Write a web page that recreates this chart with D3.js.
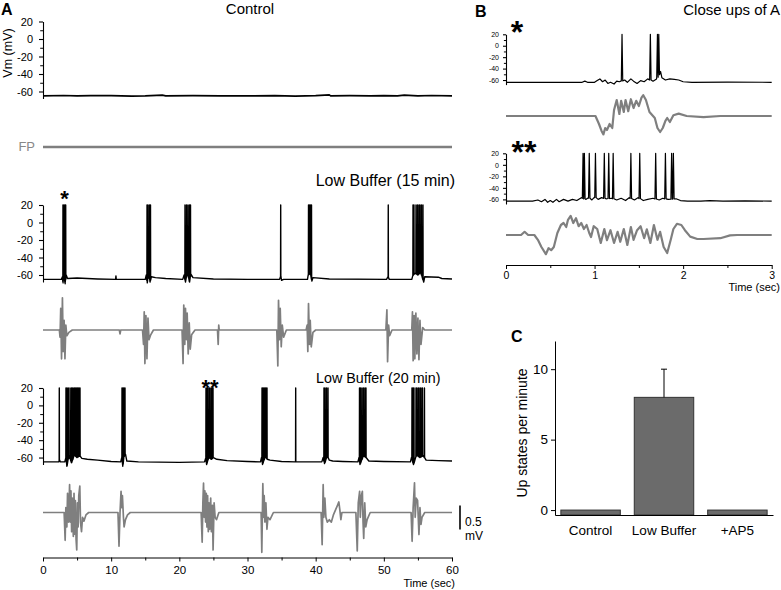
<!DOCTYPE html>
<html><head><meta charset="utf-8">
<script src="https://cdn.jsdelivr.net/npm/d3@7"></script>
<style>body{margin:0;background:#fff} svg{font-family:Arial,"Liberation Sans",sans-serif}</style>
</head><body><svg id="c" width="781" height="590"></svg>
<script>
// ---------- DATA ----------
const categories = ["Control", "Low Buffer", "+AP5"];
const upStates = [0, 8, 0];
const upStatesErr = [0, 2, 0];
const timeTicksA = [0, 10, 20, 30, 40, 50, 60];
const timeTicksB = [0, 1, 2, 3];
const vmTicks = [20, 0, -20, -40, -60];
const upTicks = [0, 5, 10];

// Panel A, control (t in s, Vm in mV)
const vmControl = [[0,-65],[3,-64.6],[5,-65],[7,-64.7],[10,-64.8],[13,-65.2],[15,-65],[17.5,-64.2],[18,-65],[22,-64.8],[26,-65.1],[30,-65],[34,-64.8],[37,-65.2],[40,-64.7],[42,-63.8],[42.2,-65],[45,-64.8],[48,-65],[50,-64.7],[52,-65],[53,-64.2],[55,-65],[57,-64.6],[60,-65]];
const fpControl = [[0,0],[60,0]];

// Panel A, low buffer 15 min
const vm15 = [[0,-65],[2.7,-65],[2.85,-62],[2.95,-69],[3.1,-58],[3.25,-70],[3.4,-60],[3.6,-64],[5,-63.5],[8,-64.5],[10.65,-65],[10.7,-61],[10.75,-65],[12,-65],[15,-65],[15.15,-60],[15.3,-69],[15.5,-58],[15.7,-68],[15.9,-62],[16.5,-63],[18,-64],[20.5,-65],[20.7,-60],[20.9,-68],[21.2,-57],[21.5,-68],[21.7,-59],[22,-63],[25,-64.5],[30,-65],[34.7,-65],[34.85,-61],[35.0,-66],[35.3,-65],[38.8,-65],[38.9,-60],[39.2,-58],[39.45,-67],[39.6,-63],[42,-64.5],[50.4,-65],[50.6,-62],[50.8,-65],[54.1,-65],[54.3,-60],[54.6,-58],[55.0,-60],[55.4,-57],[55.85,-68],[56,-62],[58,-62.5],[58.5,-64],[60,-64.5]];
const spikes15 = [2.93,3.08,3.23,3.33,15.26,15.4,15.62,15.77,20.83,21.05,21.27,21.49,21.64,34.87,38.95,39.1,39.24,39.39,50.65,54.28,54.42,54.72,54.94,55.16,55.3,55.52,55.74];
const fp15 = [[0,0],[2.4,0],[2.5,-0.15],[2.6,0.45],[2.72,-0.6],[2.85,0.67],[2.97,-0.45],[3.1,0.2],[3.22,-0.6],[3.35,0.1],[3.5,-0.12],[3.8,-0.05],[4.3,0],
 [11.2,0],[11.3,-0.08],[11.4,0],
 [14.6,0],[14.75,-0.3],[14.85,0.38],[14.95,-0.7],[15.1,0.3],[15.25,-0.6],[15.4,0.25],[15.55,-0.2],[15.8,-0.1],[16.2,0],
 [20.4,0],[20.55,-0.7],[20.65,0.52],[20.8,-0.3],[20.9,0.45],[21.05,-0.2],[21.15,0.35],[21.3,-0.5],[21.45,0.15],[21.6,-0.4],[21.8,-0.1],[22.3,0],
 [25.6,0],[25.7,-0.3],[25.78,0.1],[25.85,0],
 [34.3,0],[34.45,-0.75],[34.55,0.62],[34.7,-0.2],[34.8,0.45],[34.95,-0.35],[35.1,0.1],[35.3,-0.15],[35.7,0],
 [38.6,0],[38.75,0.1],[38.85,-0.45],[38.95,0.55],[39.1,-0.3],[39.2,0.2],[39.35,-0.35],[39.6,-0.05],[40,0],
 [50.3,0],[50.45,0.42],[50.55,-0.66],[50.7,0.1],[50.85,-0.12],[51.2,0],
 [54.1,0],[54.2,0.38],[54.3,-0.64],[54.45,0.3],[54.55,-0.6],[54.7,0.35],[54.85,-0.5],[55.0,0.25],[55.15,-0.62],[55.3,0.2],[55.45,-0.3],[55.7,0.05],[56,0],[60,0]];

// Panel A, low buffer 20 min
const vm20 = [[0,-65],[2.3,-65],[2.45,-63],[2.55,-65],[3.2,-65],[3.35,-60],[3.5,-70],[3.8,-58],[4.2,-66],[4.6,-57],[5.0,-60],[5.4,-58],[5.7,-61],[6.5,-62],[8,-63],[10,-64.5],[11.4,-65],[11.55,-60],[11.7,-70],[11.9,-58],[12.1,-56],[12.3,-64],[14,-65],[20,-65.5],[23.7,-65],[23.85,-61],[24.0,-68],[24.3,-60],[24.7,-62],[25.0,-60],[25.5,-62],[27,-63.5],[30,-64.5],[31.9,-65],[32.05,-60],[32.2,-68],[32.6,-59],[32.9,-62],[33.3,-63],[35,-64.5],[37,-65],[40.9,-65],[41.1,-60],[41.3,-67],[41.7,-58],[42,-63],[42.5,-64],[44,-64.5],[46.2,-65],[46.35,-60],[46.5,-68],[47,-58],[47.4,-60],[47.8,-64],[50,-64.5],[53.9,-65],[54.05,-60],[54.35,-68],[54.8,-57],[55.3,-60],[55.8,-58],[56.2,-63],[58,-63.5],[60,-64]];
const spikes20 = [2.39,3.37,3.52,3.71,3.96,4.18,4.36,4.55,4.69,4.84,4.99,5.13,5.28,5.43,11.59,11.74,11.88,12.03,23.91,24.06,24.2,24.42,24.64,24.79,24.94,32.13,32.27,32.42,32.57,32.71,32.86,37.07,41.22,41.37,41.59,41.81,46.43,46.57,46.79,47.01,47.23,47.38,54.13,54.28,54.42,54.72,54.86,55.08,55.3,55.45,55.67,55.96];
const fp20 = [[0,0],[3.1,0],[3.25,-0.58],[3.35,0.1],[3.5,-0.3],[3.6,0.4],[3.75,-0.2],[3.9,0.58],[4.0,-0.2],[4.1,0.45],[4.2,-0.4],[4.3,0.3],[4.45,-0.5],[4.55,0.4],[4.65,-0.45],[4.75,0.25],[4.85,-0.55],[4.95,-0.78],[5.05,0.2],[5.15,-0.3],[5.25,0.35],[5.4,0.55],[5.5,-0.2],[5.65,-0.4],[5.8,-0.1],[6.0,-0.18],[6.3,-0.05],[6.7,0],
 [11.0,0],[11.15,-0.7],[11.3,0],[11.45,0.44],[11.55,0.1],[11.65,0.35],[11.8,-0.1],[11.9,-0.3],[12.1,-0.15],[12.4,-0.05],[12.8,0],
 [23.2,0],[23.35,-0.62],[23.45,0.2],[23.55,0.61],[23.65,-0.1],[23.75,0.45],[23.85,-0.2],[23.95,0.4],[24.05,-0.3],[24.15,0.35],[24.25,-0.4],[24.35,0.2],[24.45,-0.35],[24.6,0.3],[24.7,-0.4],[24.85,0.15],[24.95,-0.78],[25.1,0.2],[25.25,-0.1],[25.45,-0.15],[25.8,0],
 [32.0,0],[32.1,-0.83],[32.25,0.6],[32.35,-0.1],[32.45,0.35],[32.55,-0.2],[32.7,0.2],[32.85,-0.35],[33.0,-0.1],[33.3,-0.15],[33.8,0],
 [40.8,0],[40.95,-0.67],[41.1,0.58],[41.2,-0.1],[41.35,0.3],[41.5,-0.1],[41.7,-0.2],[42.0,-0.15],[42.3,-0.2],[42.6,-0.05],[42.9,0.05],[43.2,0.15],[43.4,0.22],[43.55,0.05],[43.7,-0.15],[43.85,0],[44.2,0],
 [45.9,0],[46.1,-0.8],[46.25,0.2],[46.45,0.44],[46.55,-0.1],[46.7,0.35],[46.85,0.44],[46.95,-0.2],[47.05,-0.54],[47.2,0.2],[47.35,-0.3],[47.55,-0.15],[48,0],
 [54.0,0],[54.15,-0.6],[54.3,0.1],[54.5,0.62],[54.6,-0.1],[54.75,0.3],[54.95,0.25],[55.15,-0.46],[55.3,0.1],[55.45,-0.25],[55.6,-0.1],[56,0],[60,0]];

// Panel B, close-up "*"
const vmB1 = [[0,-64],[0.5,-64],[0.86,-64],[0.89,-62],[0.92,-64],[1.0,-64],[1.03,-61],[1.06,-58],[1.09,-63],[1.12,-60],[1.15,-66],[1.18,-64],[1.22,-67],[1.25,-62],[1.28,-63],[1.34,-60],[1.37,-64],[1.41,-58],[1.44,-62],[1.48,-66],[1.52,-61],[1.56,-63],[1.6,-58],[1.66,-62],[1.7,-58],[1.745,-45],[1.76,-56],[1.8,-60],[1.85,-58],[1.9,-59],[1.95,-60],[2.0,-63],[2.1,-64],[2.5,-63.5],[3,-64]];
const spikesB1 = [1.31, 1.63, 1.71, 1.725];
const fpB1 = [[0,0],[0.73,0],[1.01,0],[1.05,-0.2],[1.08,-0.38],[1.10,-0.46],[1.12,-0.3],[1.14,-0.35],[1.17,-0.2],[1.20,-0.3],[1.22,0.15],[1.25,0.4],[1.28,0.05],[1.30,0.38],[1.33,0.1],[1.35,0.4],[1.38,0.12],[1.41,0.42],[1.44,0.2],[1.47,0.38],[1.50,0.25],[1.53,0.46],[1.55,0.52],[1.58,0.4],[1.62,0.1],[1.66,0],[1.68,-0.05],[1.71,-0.3],[1.74,-0.4],[1.77,-0.3],[1.80,-0.12],[1.82,-0.05],[1.85,-0.15],[1.89,0.02],[1.95,0.06],[2.04,0],[2.23,-0.03],[2.42,0],[3,0]];

// Panel B, close-up "**"
const vmB2 = [[0,-63],[0.3,-63],[0.36,-61],[0.4,-64],[0.44,-60],[0.47,-65],[0.5,-62],[0.53,-65],[0.57,-60],[0.6,-64],[0.65,-60],[0.7,-63],[0.75,-60],[0.8,-62],[0.85,-57],[0.9,-60],[0.93,-57],[0.97,-61],[1.0,-56],[1.04,-60],[1.08,-57],[1.13,-59],[1.19,-58],[1.25,-61],[1.3,-58],[1.35,-62],[1.39,-57],[1.45,-61],[1.49,-57],[1.55,-62],[1.6,-60],[1.66,-58],[1.73,-61],[1.77,-58],[1.83,-60],[1.92,-59],[1.97,-62],[2.05,-63],[2.2,-63],[2.3,-62],[2.45,-63],[2.7,-62.5],[3,-63]];
const spikesB2 = [0.87,0.885,0.94,1.01,1.11,1.16,1.21,1.41,1.51,1.69,1.80,1.87,1.89];
const fpB2 = [[0,0],[0.17,0],[0.21,0.08],[0.25,0],[0.32,0],[0.36,-0.12],[0.40,-0.3],[0.45,-0.48],[0.48,-0.33],[0.51,-0.38],[0.54,-0.3],[0.58,0.05],[0.62,0.25],[0.65,0.3],[0.68,0.2],[0.70,0.38],[0.73,0.48],[0.76,0.3],[0.79,0.42],[0.82,0.22],[0.85,0.3],[0.88,0.15],[0.91,0.25],[0.94,0.05],[0.96,-0.05],[0.99,0.22],[1.03,0.15],[1.07,-0.2],[1.11,0.15],[1.14,-0.13],[1.18,0.12],[1.22,-0.2],[1.26,0.08],[1.29,-0.17],[1.33,0.15],[1.37,-0.25],[1.41,0.2],[1.44,-0.12],[1.48,0.12],[1.52,0.22],[1.56,-0.08],[1.59,0.14],[1.63,-0.2],[1.67,0.25],[1.71,-0.12],[1.74,0.08],[1.78,-0.3],[1.82,-0.45],[1.86,-0.12],[1.89,0.15],[1.93,0.28],[1.98,0.25],[2.02,0.12],[2.08,-0.04],[2.16,-0.1],[2.23,-0.1],[2.42,-0.08],[2.53,-0.01],[2.61,0],[3,0]];

// ---------- DRAWING ----------
const svg = d3.select('#c');
const FONT = 'Arial,"Liberation Sans",sans-serif';
const FPCOL = '#7f7f7f';

function addSpikes(base, spikes, w) {
  const bis = d3.bisector(d => d[0]).left;
  const at = t => {
    const i = bis(base, t);
    if (i <= 0) return base[0][1];
    if (i >= base.length) return base[base.length - 1][1];
    const a = base[i - 1], b = base[i];
    return a[1] + (b[1] - a[1]) * (t - a[0]) / (b[0] - a[0]);
  };
  const pts = base.slice();
  spikes.forEach(s => { const b = at(s); pts.push([s - w, b], [s, 20], [s + w, b]); });
  return pts.sort((a, b) => a[0] - b[0]);
}
function drawTrace(pts, x, y, color, width) {
  svg.append('path').datum(pts)
    .attr('d', d3.line().x(d => x(d[0])).y(d => y(d[1])))
    .attr('fill', 'none').attr('stroke', color).attr('stroke-width', width)
    .attr('stroke-linejoin', 'round');
}
function vmAxis(y, x0, size, fontSize, pad) {
  const g = svg.append('g').attr('transform', `translate(${x0},0)`);
  g.call(d3.axisLeft(y).tickValues(vmTicks).tickSize(size).tickPadding(pad).tickSizeOuter(0).tickFormat(d => String(d)));
  const m = svg.append('g').attr('transform', `translate(${x0},0)`);
  m.call(d3.axisLeft(y).tickValues([10, -10, -30, -50]).tickSize(size * 0.7).tickSizeOuter(0).tickFormat(''));
  m.select('.domain').remove();
  g.attr('font-size', fontSize).attr('font-family', FONT);
  g.selectAll('line,path').attr('stroke-width', 1.1);
}
function txt(x, y, s, size, opts = {}) {
  const t = svg.append('text').attr('x', x).attr('y', y).text(s)
    .attr('font-size', size).attr('font-family', FONT)
    .attr('text-anchor', opts.anchor || 'start')
    .attr('fill', opts.fill || '#000')
    .attr('font-weight', opts.bold ? 'bold' : 'normal');
  if (opts.rotate) t.attr('transform', `rotate(-90,${x},${y})`);
  return t;
}

// ----- Panel A -----
const xA = d3.scaleLinear().domain([0, 60]).range([43, 452]);
const vmDom = [-68, 20];
const yCtl = d3.scaleLinear().domain(vmDom).range([98.5, 21.5]);
const y15 = d3.scaleLinear().domain(vmDom).range([282, 205]);
const y20 = d3.scaleLinear().domain(vmDom).range([464.5, 388]);
const fpScale = (base, k) => d3.scaleLinear().domain([-1, 1]).range([base + k, base - k]);

vmAxis(yCtl, 43, 4, 11, 6);
vmAxis(y15, 43, 4, 11, 6);
vmAxis(y20, 43, 4, 11, 6);

drawTrace(vmControl, xA, yCtl, '#000', 1.7);
drawTrace(fpControl, xA, fpScale(147, 48), FPCOL, 2.6);
drawTrace(addSpikes(vm15, spikes15, 0.02), xA, y15, '#000', 1.4);
drawTrace(fp15, xA, fpScale(330, 48), FPCOL, 1.7);
drawTrace(addSpikes(vm20, spikes20, 0.02), xA, y20, '#000', 1.4);
drawTrace(fp20, xA, fpScale(512.5, 48), FPCOL, 1.7);

const gxA = svg.append('g').attr('transform', 'translate(0,557.5)');
gxA.call(d3.axisBottom(xA).tickValues(timeTicksA).tickSize(4).tickPadding(4).tickSizeOuter(0));
const gxAm = svg.append('g').attr('transform', 'translate(0,557.5)');
gxAm.call(d3.axisBottom(xA).tickValues([5, 15, 25, 35, 45, 55]).tickSize(3).tickFormat(''));
gxAm.select('.domain').remove();
gxA.attr('font-size', 11.5).attr('font-family', FONT);

// scale bar
const fpA = fpScale(512.5, 48);
svg.append('line').attr('x1', 460).attr('x2', 460).attr('y1', fpA(0.25) + 5).attr('y2', fpA(-0.25) + 5)
  .attr('stroke', '#000').attr('stroke-width', 1.6);
txt(465, 526, '0.5', 12);
txt(465, 540, 'mV', 12);

txt(1, 15, 'A', 16, { bold: true });
txt(250, 13.5, 'Control', 15, { anchor: 'middle' });
txt(12, 53, 'Vm (mV)', 12.5, { anchor: 'middle', rotate: true });
txt(35, 151, 'FP', 13, { anchor: 'end', fill: '#888' });
txt(455, 186, 'Low Buffer (15 min)', 16, { anchor: 'end' });
txt(316, 383, 'Low Buffer (20 min)', 14.3, { anchor: 'start' });
txt(64.5, 206, '*', 22, { anchor: 'middle', bold: true });
txt(210, 395, '**', 22, { anchor: 'middle', bold: true });
txt(455, 587, 'Time (sec)', 11, { anchor: 'end' });

// ----- Panel B -----
const xB = d3.scaleLinear().domain([0, 3]).range([506, 771.7]);
const yB1 = d3.scaleLinear().domain(vmDom).range([84.6, 34.3]);
const yB2 = d3.scaleLinear().domain(vmDom).range([204, 153.3]);
vmAxis(yB1, 506, 3, 7, 4);
vmAxis(yB2, 506, 3, 7, 4);
drawTrace(addSpikes(vmB1, spikesB1, 0.008), xB, yB1, '#000', 1.2);
drawTrace(fpB1, xB, fpScale(116, 40), FPCOL, 2.2);
drawTrace(addSpikes(vmB2, spikesB2, 0.008), xB, yB2, '#000', 1.2);
drawTrace(fpB2, xB, fpScale(235, 40), FPCOL, 2.2);

const gxB = svg.append('g').attr('transform', 'translate(0,265)');
gxB.call(d3.axisBottom(xB).tickValues(timeTicksB).tickSize(4).tickPadding(3).tickSizeOuter(0).tickFormat(d3.format('d')));
const gxBm = svg.append('g').attr('transform', 'translate(0,265)');
gxBm.call(d3.axisBottom(xB).tickValues([0.5, 1.5, 2.5]).tickSize(3).tickFormat(''));
gxBm.select('.domain').remove();
gxB.attr('font-size', 10.5).attr('font-family', FONT);

txt(475, 17, 'B', 16, { bold: true });
txt(780, 15, 'Close ups of A', 15, { anchor: 'end' });
txt(517, 43, '*', 32, { anchor: 'middle', bold: true });
txt(524, 163, '**', 32, { anchor: 'middle', bold: true });
txt(780, 291, 'Time (sec)', 11, { anchor: 'end' });

// ----- Panel C -----
const yC = d3.scaleLinear().domain([-0.35, 12]).range([515, 341]);
const xC = d3.scaleBand().domain(categories).range([555, 773]).paddingInner(0.19).paddingOuter(0.08);
svg.append('g').selectAll('rect').data(categories).join('rect')
  .attr('x', d => xC(d)).attr('width', xC.bandwidth())
  .attr('y', (d, i) => yC(upStates[i])).attr('height', (d, i) => yC(-0.35) - yC(upStates[i]))
  .attr('fill', '#6b6b6b').attr('stroke', '#333').attr('stroke-width', 1);
categories.forEach((c, i) => {
  if (upStatesErr[i] > 0) {
    const cx = xC(c) + xC.bandwidth() / 2;
    svg.append('line').attr('x1', cx).attr('x2', cx).attr('y1', yC(upStates[i])).attr('y2', yC(upStates[i] + upStatesErr[i])).attr('stroke', '#000');
    svg.append('line').attr('x1', cx - 3).attr('x2', cx + 3).attr('y1', yC(upStates[i] + upStatesErr[i])).attr('y2', yC(upStates[i] + upStatesErr[i])).attr('stroke', '#000');
  }
});
const gyC = svg.append('g').attr('transform', 'translate(555,0)');
gyC.call(d3.axisLeft(yC).tickValues(upTicks).tickSize(4).tickPadding(3).tickSizeOuter(0));
gyC.attr('font-size', 13.5).attr('font-family', FONT);
const gxC = svg.append('g').attr('transform', 'translate(0,515)');
gxC.call(d3.axisBottom(xC).tickSize(0).tickPadding(8).tickSizeOuter(0));
gxC.attr('font-size', 13.5).attr('font-family', FONT);
gxC.selectAll('text').attr('dy', '0.9em');

txt(511, 342, 'C', 16, { bold: true });
txt(527, 433, 'Up states per minute', 14, { anchor: 'middle', rotate: true });
</script></body></html>
